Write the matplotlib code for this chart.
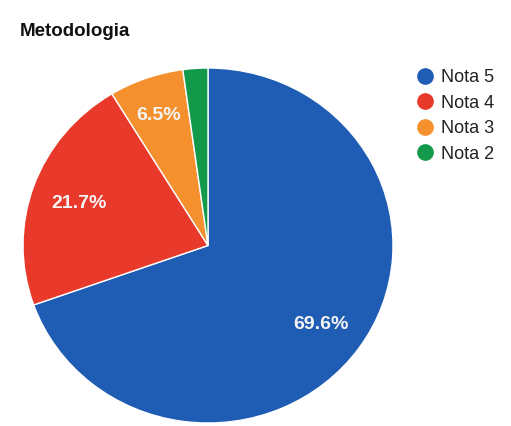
import matplotlib
matplotlib.use("Agg")
from matplotlib import pyplot as plt
from matplotlib.lines import Line2D
import numpy as np

# Respostas por nota (46 no total)
categorias = ['Nota 5', 'Nota 4', 'Nota 3', 'Nota 2']
respostas = [32, 10, 3, 1]
cores = ['#1f5cb3', '#e8392b', '#f5902e', '#12994a']


def rotulo_pct(pct):
    # fatias pequenas ficam sem rótulo
    return f'{pct:.1f}%' if pct >= 5 else ''


fig = plt.figure(figsize=(5.11, 4.26), dpi=100)
plt.rcParams['font.family'] = ['Liberation Sans', 'DejaVu Sans']

# pizza levemente mais larga que alta
ax = fig.add_axes([23 / 511, 3 / 426, 370 / 511, 355 / 426])
fatias, textos, pcts = ax.pie(
    respostas, colors=cores, startangle=90, counterclock=False,
    autopct=rotulo_pct, pctdistance=0.75,
    wedgeprops=dict(edgecolor='white', linewidth=1.0),
    textprops=dict(color='#f4f4f4', fontsize=14, fontweight='bold'))
ax.set_aspect('auto')
ax.set_xlim(-1, 1)
ax.set_ylim(-1, 1)

# distância do rótulo ao centro para cada fatia
dist_rotulo = [0.75, 0.74, 0.79, 0.75]
for fatia, txt, d in zip(fatias, pcts, dist_rotulo):
    ang = np.deg2rad((fatia.theta1 + fatia.theta2) / 2)
    txt.set_position((d * np.cos(ang), d * np.sin(ang)))
    txt.set_va('center_baseline')

fig.text(20 / 511, 1 - 31 / 426, 'Metodologia', fontsize=13.5,
         fontweight='bold', color='#111111', va='center', ha='left')

handles = [Line2D([], [], marker='o', linestyle='', markersize=11,
                  markerfacecolor=c, markeredgecolor=c) for c in cores]
fig.legend(handles, categorias, loc='upper left',
           bbox_to_anchor=(409 / 511, 1 - 62 / 426), frameon=False,
           fontsize=13, labelcolor='#222222', handletextpad=0.35,
           labelspacing=0.47, handlelength=1.0, borderaxespad=0)

plt.savefig('out.png', dpi=100)
